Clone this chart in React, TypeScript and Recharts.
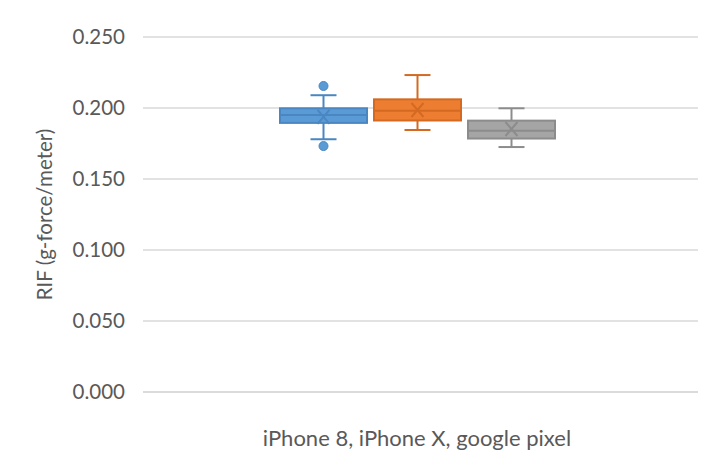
import React from 'react';
import { ComposedChart, Bar, XAxis, YAxis, CartesianGrid } from 'recharts';

const categories = ['iPhone 8, iPhone X, google pixel'];
const devices = ['iPhone 8', 'iPhone X', 'google pixel'];
const mins = [0.178, 0.1845, 0.1725];
const q1s = [0.1895, 0.1912, 0.1785];
const medians = [0.195, 0.198, 0.184];
const q3s = [0.1998, 0.2061, 0.1911];
const maxs = [0.209, 0.2232, 0.1998];
const means = [0.1937, 0.1986, 0.1852];
const outliers = [[0.2155, 0.1732], [], []];
const yTicks = [0, 0.05, 0.1, 0.15, 0.2, 0.25];

const fills = ['#5b9bd5', '#ed7d31', '#a5a5a5'];
const strokes = ['#4a87c2', '#d46a22', '#8c8c8c'];

const data = categories.map((name) => {
  const row: Record<string, unknown> = { name };
  devices.forEach((d, i) => {
    row[d] = [q1s[i], q3s[i]];
  });
  return row;
});

function BoxShape(props: any) {
  const { x, y, width, height, idx } = props;
  const lo = q1s[idx];
  const hi = q3s[idx];
  const k = height / (hi - lo);
  const py = (v: number) => y + (hi - v) * k;
  const cx = x + width / 2;
  const stroke = strokes[idx];
  const fill = fills[idx];
  const cap = 13;
  const mx = 6;
  const my = 7;
  const meanY = py(means[idx]);
  return (
    <g>
      <line x1={cx} x2={cx} y1={py(maxs[idx])} y2={y} stroke={stroke} strokeWidth={2} />
      <line x1={cx} x2={cx} y1={y + height} y2={py(mins[idx])} stroke={stroke} strokeWidth={2} />
      <line x1={cx - cap} x2={cx + cap} y1={py(maxs[idx])} y2={py(maxs[idx])} stroke={stroke} strokeWidth={2} />
      <line x1={cx - cap} x2={cx + cap} y1={py(mins[idx])} y2={py(mins[idx])} stroke={stroke} strokeWidth={2} />
      <rect x={x} y={y} width={width} height={height} fill={fill} stroke={stroke} strokeWidth={2} />
      <line x1={x} x2={x + width} y1={py(medians[idx])} y2={py(medians[idx])} stroke={stroke} strokeWidth={2} />
      <line x1={cx - mx} x2={cx + mx} y1={meanY - my} y2={meanY + my} stroke={stroke} strokeWidth={2} />
      <line x1={cx - mx} x2={cx + mx} y1={meanY + my} y2={meanY - my} stroke={stroke} strokeWidth={2} />
      {outliers[idx].map((v, j) => (
        <circle key={j} cx={cx} cy={py(v)} r={4.5} fill={fill} stroke={stroke} strokeWidth={1} />
      ))}
    </g>
  );
}

export default function App() {
  const font = 'Lato, "Open Sans", sans-serif';
  return (
    <div style={{ position: 'relative', width: 706, height: 467, margin: -8, background: '#fff', overflow: 'hidden' }}>
      <div
        style={{
          position: 'absolute',
          left: 7,
          top: 7,
          width: 720,
          height: 480,
          borderTop: '1px solid #d9d9d9',
          borderLeft: '1px solid #d9d9d9',
        }}
      />
      <ComposedChart
        width={706}
        height={467}
        data={data}
        margin={{ top: 37, right: 6, bottom: 0, left: 0 }}
        barSize={87}
        barGap={7}
        style={{ position: 'absolute', left: 0, top: 0, fontFamily: font }}
      >
        <CartesianGrid vertical={false} stroke="#d9d9d9" strokeWidth={1.5} />
        <XAxis
          dataKey="name"
          height={75}
          padding={{ left: 0, right: 9 }}
          axisLine={{ stroke: '#d9d9d9', strokeWidth: 1.5 }}
          tickLine={false}
          tickMargin={32}
          tick={{ fontSize: 22, fill: '#595959', fontFamily: font }}
        />
        <YAxis
          width={143}
          domain={[0, 0.25]}
          ticks={yTicks}
          axisLine={false}
          tickLine={false}
          tickMargin={12}
          tickFormatter={(v: number) => v.toFixed(3)}
          tick={{ fontSize: 20.5, fill: '#595959', fontFamily: font }}
          label={{
            value: 'RIF (g-force/meter)',
            angle: -90,
            position: 'insideLeft',
            offset: 45,
            style: { textAnchor: 'middle', fontSize: 20.5, fill: '#595959', fontFamily: font },
          }}
        />
        {devices.map((d, i) => (
          <Bar
            key={d}
            dataKey={d}
            isAnimationActive={false}
            fill={fills[i]}
            shape={(p: any) => <BoxShape {...p} idx={i} />}
          />
        ))}
      </ComposedChart>
    </div>
  );
}
